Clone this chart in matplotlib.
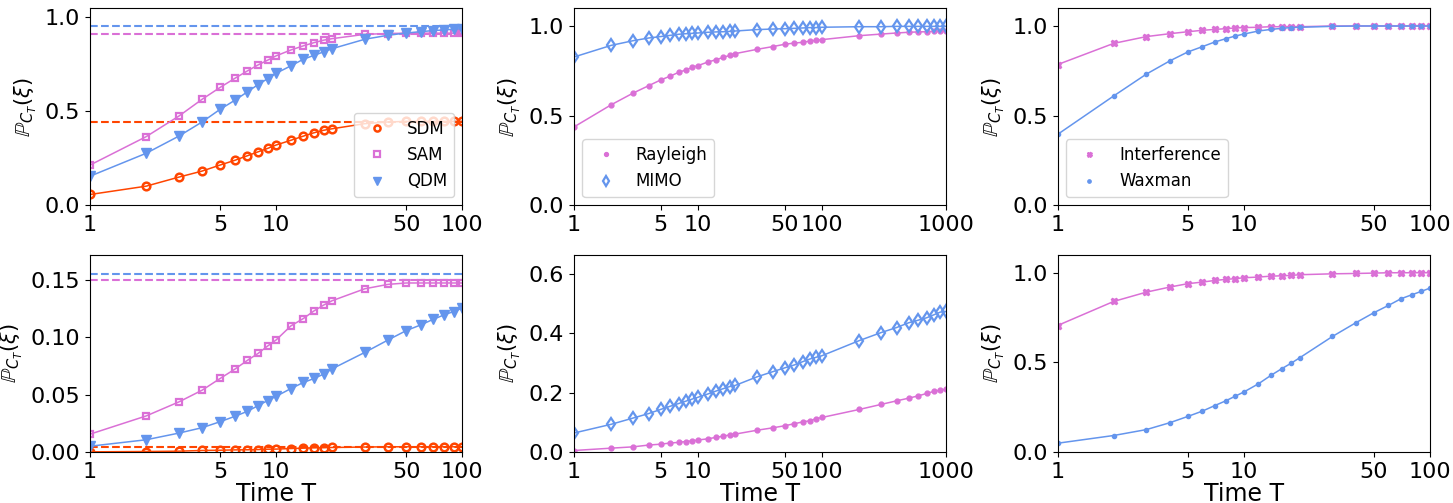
import matplotlib
matplotlib.use("Agg")
import matplotlib.pyplot as plt
from matplotlib.ticker import FixedLocator, FixedFormatter, NullLocator

# time steps
T100 = [1, 2, 3, 4, 5, 6, 7, 8, 9, 10, 12, 14, 16, 18, 20, 30, 40, 50, 60, 70, 80, 90, 100]
T1000 = T100 + [200, 300, 400, 500, 600, 700, 800, 900, 1000]

# top-left: SDM / SAM / QDM
sdm_top = [0.058, 0.102, 0.150, 0.182, 0.214, 0.239, 0.263, 0.284, 0.302, 0.320, 0.345, 0.367,
           0.385, 0.398, 0.406, 0.433, 0.442, 0.445, 0.445, 0.445, 0.445, 0.445, 0.445]
sam_top = [0.214, 0.364, 0.473, 0.562, 0.625, 0.673, 0.712, 0.744, 0.769, 0.792, 0.823, 0.845,
           0.862, 0.875, 0.883, 0.906, 0.910, 0.912, 0.912, 0.912, 0.912, 0.912, 0.912]
qdm_top = [0.155, 0.276, 0.367, 0.442, 0.509, 0.557, 0.601, 0.640, 0.671, 0.700, 0.739, 0.774,
           0.795, 0.813, 0.830, 0.880, 0.901, 0.913, 0.920, 0.926, 0.929, 0.933, 0.936]
limits_top = {"SDM": 0.442, "SAM": 0.910, "QDM": 0.950}

# bottom-left
sdm_bot = [0.0003, 0.0006, 0.0009, 0.0015, 0.0017, 0.0020, 0.0021, 0.0023, 0.0026, 0.0027, 0.0032,
           0.0035, 0.0038, 0.0039, 0.0041, 0.0045, 0.0047, 0.0047, 0.0047, 0.0047, 0.0047, 0.0047, 0.0047]
sam_bot = [0.0157, 0.0315, 0.0437, 0.0539, 0.0641, 0.0722, 0.0798, 0.0859, 0.0923, 0.0976, 0.1098,
           0.1162, 0.1229, 0.1279, 0.1317, 0.1421, 0.1459, 0.1471, 0.1471, 0.1471, 0.1471, 0.1471, 0.1471]
qdm_bot = [0.0052, 0.0108, 0.0166, 0.0213, 0.0265, 0.0312, 0.0355, 0.0405, 0.0449, 0.0486, 0.0553,
           0.0606, 0.0641, 0.0679, 0.0725, 0.0868, 0.0976, 0.1057, 0.1107, 0.1156, 0.1194, 0.1223, 0.1252]
limits_bot = {"SDM": 0.0045, "SAM": 0.150, "QDM": 0.155}

# middle: Rayleigh / MIMO
rayleigh_top = [0.437, 0.561, 0.626, 0.667, 0.699, 0.721, 0.742, 0.755, 0.770, 0.779, 0.799, 0.812,
                0.825, 0.836, 0.846, 0.870, 0.885, 0.898, 0.905, 0.909, 0.916, 0.920, 0.924,
                0.946, 0.955, 0.961, 0.965, 0.967, 0.968, 0.970, 0.972, 0.972]
mimo_top = [0.827, 0.892, 0.918, 0.933, 0.941, 0.948, 0.954, 0.957, 0.959, 0.961, 0.965, 0.967,
            0.968, 0.970, 0.972, 0.980, 0.983, 0.985, 0.987, 0.989, 0.991, 0.991, 0.993,
            0.996, 0.996, 0.998, 0.998, 0.998, 0.998, 0.998, 0.998, 0.998]
rayleigh_bot = [0.0057, 0.0136, 0.018, 0.024, 0.027, 0.031, 0.033, 0.036, 0.038, 0.041, 0.045, 0.050,
                0.054, 0.058, 0.061, 0.074, 0.082, 0.089, 0.096, 0.102, 0.106, 0.113, 0.117,
                0.144, 0.161, 0.173, 0.182, 0.190, 0.198, 0.205, 0.209, 0.212]
mimo_bot = [0.0645, 0.094, 0.115, 0.130, 0.144, 0.155, 0.164, 0.172, 0.179, 0.185, 0.196, 0.206,
            0.214, 0.221, 0.225, 0.254, 0.271, 0.284, 0.294, 0.305, 0.314, 0.320, 0.325,
            0.376, 0.403, 0.420, 0.436, 0.445, 0.453, 0.463, 0.472, 0.474]

# right: Interference / Waxman
interf_top = [0.785, 0.903, 0.941, 0.957, 0.968, 0.976, 0.981, 0.985, 0.989, 0.991, 0.993, 0.996,
              0.996, 0.996, 0.996, 1.0, 1.0, 1.0, 1.0, 1.0, 1.0, 1.0, 1.0]
waxman_top = [0.396, 0.610, 0.732, 0.805, 0.855, 0.885, 0.911, 0.929, 0.944, 0.955, 0.972, 0.981,
              0.987, 0.991, 0.993, 0.998, 1.0, 1.0, 1.0, 1.0, 1.0, 1.0, 1.0]
interf_bot = [0.706, 0.840, 0.892, 0.920, 0.939, 0.948, 0.957, 0.963, 0.967, 0.972, 0.976, 0.981,
              0.983, 0.985, 0.989, 0.994, 0.996, 0.998, 1.0, 1.0, 1.0, 1.0, 1.0]
waxman_bot = [0.050, 0.093, 0.126, 0.164, 0.199, 0.229, 0.260, 0.286, 0.312, 0.335, 0.381, 0.428,
              0.465, 0.496, 0.526, 0.645, 0.721, 0.777, 0.818, 0.855, 0.877, 0.896, 0.914]

ORANGE = "#ff4500"
PINK = "orchid"
BLUE = "cornflowerblue"

STYLE = {
    "SDM": dict(color=ORANGE, marker="o", mfc="none", mew=1.8, ms=5.5),
    "SAM": dict(color=PINK, marker="s", mfc="none", mew=1.6, ms=5),
    "QDM": dict(color=BLUE, marker="v", ms=7),
    "Rayleigh": dict(color=PINK, marker="o", ms=3.5),
    "MIMO": dict(color=BLUE, marker="d", mfc="none", mew=1.6, ms=6),
    "Interference": dict(color=PINK, marker="X", ms=4.5),
    "Waxman": dict(color=BLUE, marker="o", ms=3),
}

plt.rcParams["font.size"] = 16
fig, axes = plt.subplots(2, 3, figsize=(14.53, 5.03), dpi=100)
fig.subplots_adjust(left=0.062, right=0.984, top=0.984, bottom=0.101, wspace=0.30, hspace=0.25)


def draw(ax, x, series, ylim, yticks, xticks, limits=None, legend_loc=None):
    for name, y in series:
        st = STYLE[name]
        ax.plot(x, y, "-", color=st["color"], lw=1.1)
        ax.plot(x, y, ls="none", label=name, **st)
        if limits:
            ax.axhline(limits[name], color=st["color"], ls="--", lw=1.5)
    ax.set_xscale("log")
    ax.set_xlim(x[0], x[-1])
    ax.xaxis.set_major_locator(FixedLocator(xticks))
    ax.xaxis.set_major_formatter(FixedFormatter([str(t) for t in xticks]))
    ax.xaxis.set_minor_locator(NullLocator())
    ax.set_ylim(*ylim)
    ax.set_yticks(yticks)
    ax.set_ylabel(r"$\mathbb{P}_{C_T}(\xi)$", fontsize=15)
    if legend_loc:
        ax.legend(loc=legend_loc, fontsize=12, markerscale=0.8)


ticks100 = [1, 5, 10, 50, 100]
ticks1000 = [1, 5, 10, 50, 100, 1000]

draw(axes[0, 0], T100, [("SDM", sdm_top), ("SAM", sam_top), ("QDM", qdm_top)],
     (0, 1.045), [0.0, 0.5, 1.0], ticks100, limits_top, "lower right")
draw(axes[0, 1], T1000, [("Rayleigh", rayleigh_top), ("MIMO", mimo_top)],
     (0, 1.1), [0.0, 0.5, 1.0], ticks1000, legend_loc="lower left")
draw(axes[0, 2], T100, [("Interference", interf_top), ("Waxman", waxman_top)],
     (0, 1.1), [0.0, 0.5, 1.0], ticks100, legend_loc="lower left")

draw(axes[1, 0], T100, [("SDM", sdm_bot), ("SAM", sam_bot), ("QDM", qdm_bot)],
     (0, 0.1716), [0.0, 0.05, 0.10, 0.15], ticks100, limits_bot)
draw(axes[1, 1], T1000, [("Rayleigh", rayleigh_bot), ("MIMO", mimo_bot)],
     (0, 0.665), [0.0, 0.2, 0.4, 0.6], ticks1000)
draw(axes[1, 2], T100, [("Interference", interf_bot), ("Waxman", waxman_bot)],
     (0, 1.1), [0.0, 0.5, 1.0], ticks100)

for ax in axes[1]:
    ax.set_xlabel("Time T", labelpad=0, fontsize=17)

fig.savefig("out.png", dpi=100)
